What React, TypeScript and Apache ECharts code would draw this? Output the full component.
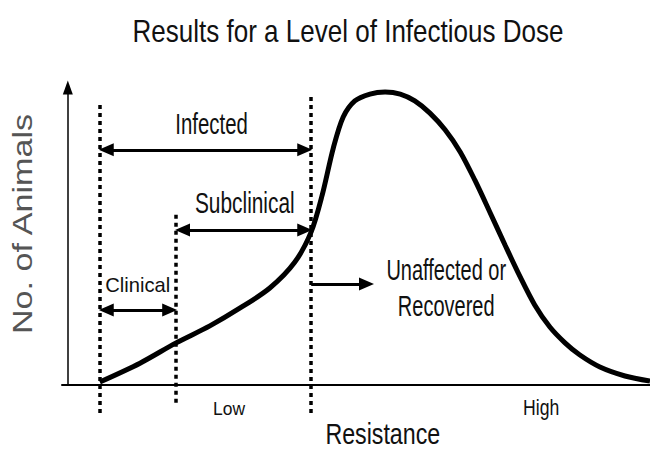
import React, { useEffect, useRef } from "react";
import * as echarts from "echarts";

// Curve: number of animals by resistance (x 0..100, y 0..100)
const curveX = [5.5, 12.4, 18.6, 24.4, 29.6, 34.7, 39.0, 41.8, 43.7, 45.6, 47.3, 49.3, 51.9, 54.5, 57.1, 59.6, 62.2, 64.8, 67.4, 69.9, 72.5, 75.1, 77.7, 80.2, 82.8, 85.4, 87.9, 91.4, 95.7, 100];
const curveY = [0.8, 7.1, 13.9, 19.6, 25.6, 32.3, 41.0, 51.1, 63.5, 79.2, 89.6, 95.0, 97.3, 98.0, 97.3, 95.0, 90.9, 85.3, 77.9, 68.5, 57.7, 46.7, 36.0, 26.6, 19.2, 13.9, 9.9, 5.8, 2.8, 1.1];

// Vertical dotted thresholds: x, top, bottom
const thresholdX = [5.5, 18.6, 41.8];
const thresholdTop = [93.6, 56.8, 96.3];
const thresholdBottom = [-9.6, -6.9, -9.6];

// Range arrows
const rangeFrom = [5.5, 18.6, 5.5];
const rangeTo = [41.8, 41.8, 18.6];
const rangeY = [78.6, 51.7, 24.9];

// Unaffected arrow
const unaffectedFrom = 41.8;
const unaffectedTo = 52.4;
const unaffectedY = 33.6;

// Text labels (positions in data units)
const labelTexts = ["Infected", "Subclinical", "Clinical", "Unaffected or\nRecovered", "Low", "High", "Resistance"];
const labelX = [24.7, 30.4, 12.0, 65.0, 27.7, 81.3, 54.1];
const labelY = [87.3, 61.0, 33.5, 32.3, -8.1, -7.6, -16.6];
const labelSizes = [30, 29, 21, 29, 18, 22, 29];
const labelStretch = [0.68, 0.72, 0.96, 0.69, 0.97, 0.8, 0.8];
const labelLineHeights = [30, 29, 21, 36, 18, 22, 29];

const titleText = "Results for a Level of Infectious Dose";
const yTitle = "No. of Animals";

const FONT = "'Liberation Sans', Arial, sans-serif";

export default function App() {
  const ref = useRef<HTMLDivElement>(null);
  useEffect(() => {
    if (!ref.current) return;
    const chart = echarts.init(ref.current, undefined, { renderer: "svg" });
    const AH = 1.1;
    const arrowSym = { symbol: "triangle", symbolSize: [13, 15] };
    const noneSym = { symbol: "none" };

    const dotted = thresholdX.map((x, i) => [
      { coord: [x, thresholdTop[i]], ...noneSym },
      { coord: [x, thresholdBottom[i]], ...noneSym },
    ]);
    const ranges: any[] = rangeFrom.map((_, i) => [
      { coord: [rangeFrom[i] + AH, rangeY[i]], ...arrowSym },
      { coord: [rangeTo[i] - AH, rangeY[i]], ...arrowSym },
    ]);
    ranges.push([
      { coord: [unaffectedFrom, unaffectedY], ...noneSym },
      { coord: [unaffectedTo - AH, unaffectedY], ...arrowSym },
    ]);
    const yAxisLine = [[
      { coord: [0, 0], ...noneSym },
      { coord: [0, 99.5], symbol: "triangle", symbolSize: [10, 14] },
    ]];

    const mk = (data: any[], lineStyle: any) => ({
      silent: true,
      animation: false,
      label: { show: false },
      emphasis: { disabled: true },
      lineStyle,
      itemStyle: { color: "#000" },
      data,
    });

    chart.setOption({
      animation: false,
      backgroundColor: "#ffffff",
      grid: { left: 62, right: 0, top: 80, bottom: 0 },
      xAxis: {
        type: "value",
        min: -1,
        max: 100,
        axisLine: { show: true, onZero: true, lineStyle: { color: "#000", width: 2 } },
        axisTick: { show: false },
        axisLabel: { show: false },
        splitLine: { show: false },
      },
      yAxis: {
        type: "value",
        min: -22,
        max: 102,
        axisLine: { show: false },
        axisTick: { show: false },
        axisLabel: { show: false },
        splitLine: { show: false },
      },
      series: [
        {
          name: "thresholds",
          type: "line",
          data: [],
          silent: true,
          markLine: mk(dotted, { color: "#000", width: 3.5, type: [4, 4], cap: "butt" }),
        },
        {
          name: "arrows",
          type: "line",
          data: [],
          silent: true,
          markLine: mk(ranges, { color: "#000", width: 3, type: "solid" }),
        },
        {
          name: "yaxis",
          type: "line",
          data: [],
          silent: true,
          markLine: mk(yAxisLine, { color: "#000", width: 1.5, type: "solid" }),
        },
        {
          name: "Animals",
          type: "line",
          data: curveX.map((x, i) => [x, curveY[i]]),
          smooth: 0.3,
          symbol: "none",
          lineStyle: { color: "#000", width: 5 },
          z: 5,
        },
      ],
    });

    const texts = labelTexts.map((t, i) => {
      const p = chart.convertToPixel({ gridIndex: 0 }, [labelX[i], labelY[i]]) as number[];
      return {
        type: "text",
        x: p[0],
        y: p[1],
        scaleX: labelStretch[i],
        silent: true,
        style: {
          text: t,
          fontSize: labelSizes[i],
          fontFamily: FONT,
          fill: "#111",
          align: "center",
          verticalAlign: "middle",
          lineHeight: labelLineHeights[i],
        },
      };
    });

    chart.setOption({
      graphic: [
        {
          type: "text",
          x: 348,
          y: 31,
          scaleX: 0.84,
          silent: true,
          style: {
            text: titleText,
            fontSize: 31,
            fontFamily: FONT,
            fill: "#111",
            align: "center",
            verticalAlign: "middle",
          },
        },
        {
          type: "text",
          x: 23,
          y: 224,
          rotation: Math.PI / 2,
          scaleX: 1.22,
          silent: true,
          style: {
            text: yTitle,
            fontSize: 28,
            fontFamily: FONT,
            fill: "#555",
            align: "center",
            verticalAlign: "middle",
          },
        },
        ...texts,
      ],
    });
    return () => chart.dispose();
  }, []);
  return (
    <div
      ref={ref}
      style={{ position: "fixed", left: 0, top: 0, width: 650, height: 450 }}
    />
  );
}
